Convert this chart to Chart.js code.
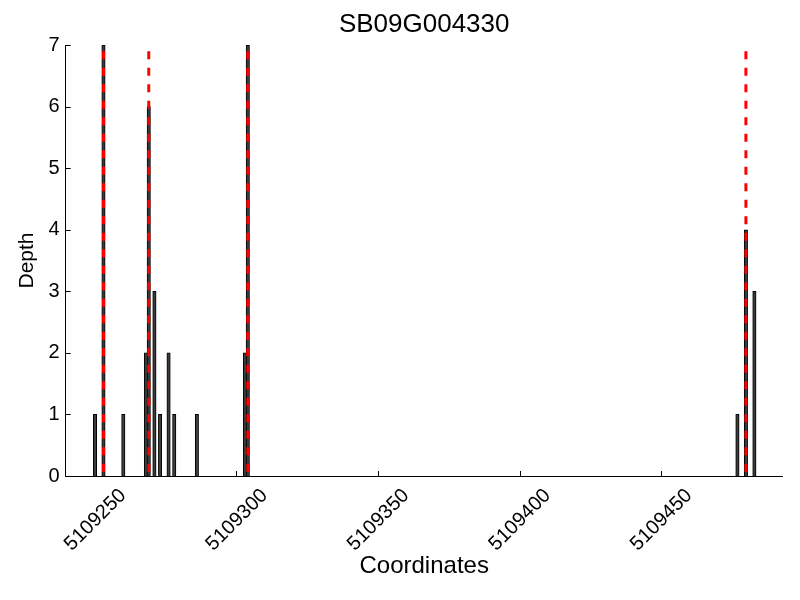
<!DOCTYPE html>
<html><head><meta charset="utf-8">
<script src="https://cdn.jsdelivr.net/npm/chart.js@4.4.0/dist/chart.umd.min.js"></script>
<style>html,body{margin:0;padding:0;background:#fff}canvas{display:block}</style>
</head><body>
<canvas id="c" width="800" height="600"></canvas>
<script>
const titleText = 'SB09G004330';
const xLabel = 'Coordinates';
const yLabel = 'Depth';
const coordinates = [5109250, 5109253, 5109260, 5109268, 5109269, 5109271, 5109273, 5109276, 5109278, 5109286, 5109303, 5109304, 5109477, 5109480, 5109483];
const depths = [1, 7, 1, 2, 6, 3, 1, 2, 1, 1, 2, 7, 1, 4, 3];
const markerPositions = [5109253, 5109269, 5109304, 5109480];
const markerTop = 6.9;
const xTickValues = [5109250, 5109300, 5109350, 5109400, 5109450];
const yTickValues = [0, 1, 2, 3, 4, 5, 6, 7];
const xRange = [5109239.65, 5109493.0];
const yRange = [0, 7];

Chart.defaults.font.family = "'Liberation Sans', Arial, sans-serif";
Chart.defaults.color = '#000';

const barData = coordinates.map((c, i) => ({x: c, y: depths[i]}));
const markerSets = markerPositions.map(p => ({
  type: 'line',
  data: [{x: p, y: markerTop}, {x: p, y: 0}],
  borderColor: '#ff0000',
  borderWidth: 3,
  borderDash: [8, 8.5],
  pointRadius: 0,
  fill: false,
  order: 0,
  xAxisID: 'x', yAxisID: 'y'
}));

const inwardTicks = {
  id: 'inwardTicks',
  beforeDatasetsDraw(chart) {
    const {ctx, chartArea, scales} = chart;
    ctx.save();
    ctx.strokeStyle = '#000';
    ctx.lineWidth = 1;
    ctx.beginPath();
    scales.y.ticks.forEach(t => {
      const py = Math.round(scales.y.getPixelForValue(t.value)) + 0.5;
      ctx.moveTo(chartArea.left, py); ctx.lineTo(chartArea.left + 5, py);
    });
    scales.x.ticks.forEach(t => {
      const px = Math.round(scales.x.getPixelForValue(t.value)) + 0.5;
      ctx.moveTo(px, chartArea.bottom); ctx.lineTo(px, chartArea.bottom - 5);
    });
    ctx.stroke();
    ctx.restore();
  }
};

new Chart(document.getElementById('c'), {
  type: 'bar',
  data: {
    datasets: [
      ...markerSets,
      {
        type: 'bar',
        data: barData,
        backgroundColor: '#3c3c3c',
        borderColor: '#000000',
        borderWidth: 1,
        barThickness: 3.4,
        order: 1,
        xAxisID: 'x', yAxisID: 'y'
      }
    ]
  },
  options: {
    responsive: false,
    animation: false,
    layout: {padding: {left: 0, right: 17.3, top: 0, bottom: 0}},
    plugins: {legend: {display: false}, tooltip: {enabled: false}, title: {display: false}},
    scales: {
      x: {
        type: 'linear', position: 'bottom', min: xRange[0], max: xRange[1], offset: false,
        afterBuildTicks: s => { s.ticks = xTickValues.map(v => ({value: v})); },
        afterFit: s => { s.height = 124; },
        grid: {display: false, drawTicks: false},
        border: {display: true, color: '#000', width: 1},
        ticks: {callback: v => String(v), minRotation: 45, maxRotation: 45, autoSkip: false,
                font: {size: 20}, color: '#000', padding: 8, labelOffset: 28},
        title: {display: true, text: xLabel, font: {size: 24}, color: '#000', padding: {top: 0, bottom: 19.5}}
      },
      x2: {
        type: 'linear', position: 'top', min: xRange[0], max: xRange[1], offset: false,
        afterFit: s => { s.height = 45; },
        grid: {display: false, drawTicks: false},
        border: {display: false},
        ticks: {display: false},
        title: {display: true, text: titleText, font: {size: 26}, color: '#000', padding: {top: 9, bottom: 0}}
      },
      y: {
        type: 'linear', position: 'left', min: yRange[0], max: yRange[1],
        afterBuildTicks: s => { s.ticks = yTickValues.map(v => ({value: v})); },
        afterFit: s => { s.width = 65.7; },
        grid: {display: false, drawTicks: false},
        border: {display: true, color: '#000', width: 1},
        ticks: {font: {size: 20}, color: '#000', padding: 6},
        title: {display: true, text: yLabel, font: {size: 21}, color: '#000', padding: {top: 15, bottom: 0}}
      }
    }
  },
  plugins: [inwardTicks]
});
</script>
</body></html>
